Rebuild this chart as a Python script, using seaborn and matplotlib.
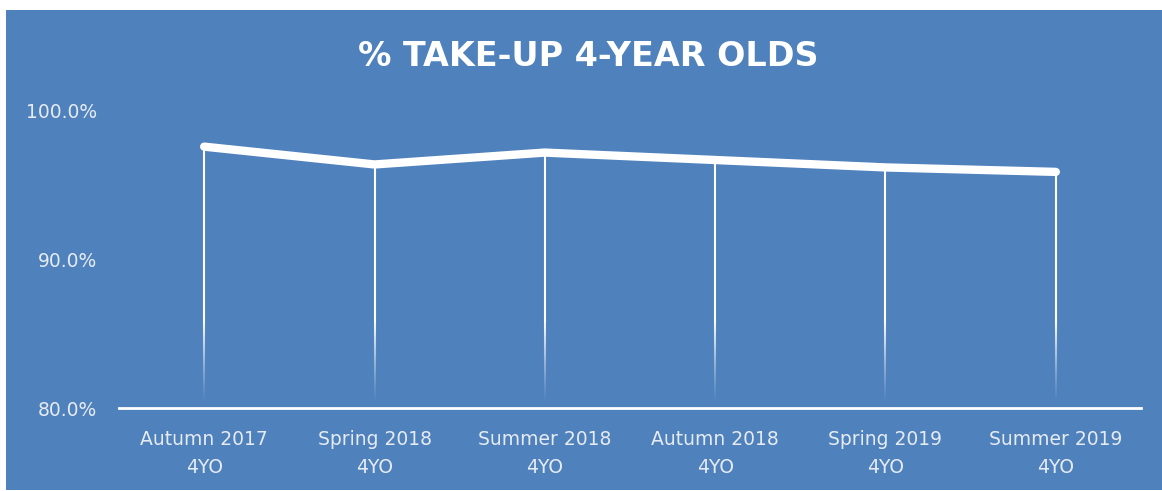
import numpy as np
import pandas as pd
import matplotlib.pyplot as plt
import seaborn as sns
from matplotlib.patches import Rectangle

# chart data
terms = ['Autumn 2017\n4YO', 'Spring 2018\n4YO', 'Summer 2018\n4YO',
         'Autumn 2018\n4YO', 'Spring 2019\n4YO', 'Summer 2019\n4YO']
take_up = [97.6, 96.4, 97.2, 96.7, 96.2, 95.9]
y_ticks = [80, 90, 100]

BLUE = '#4F81BD'
TXT = '#E6EBF2'

df = pd.DataFrame({'term': terms, 'pct': take_up})
df['pos'] = np.arange(len(df))

sns.set_style('white')
plt.rcParams['font.family'] = ['DejaVu Sans']

fig = plt.figure(figsize=(11.62, 4.91), dpi=100)
fig.patch.set_facecolor('white')
# blue chart panel
fig.add_artist(Rectangle((6 / 1162, 1 / 491), 1 - 6 / 1162, 480 / 491,
                         transform=fig.transFigure, facecolor=BLUE,
                         edgecolor='none', zorder=-5))

ax = fig.add_axes([119 / 1162, 83 / 491, 1022 / 1162, 297 / 491])
ax.set_facecolor('none')
ax.set_zorder(2)

# drop lines, solid at the top and fading out towards the axis
fade_top = 86.0
fade_bot = 80.3
ax.vlines(df['pos'], fade_top, df['pct'], color='white', lw=1.5, zorder=2)
edges = np.linspace(fade_top, fade_bot, 40)
for i in range(len(edges) - 1):
    a = 1 - i / (len(edges) - 1)
    ax.vlines(df['pos'], edges[i + 1], edges[i], color='white', lw=1.5,
              alpha=a ** 1.3, zorder=2)

sns.lineplot(data=df, x='pos', y='pct', ax=ax, color='white', lw=6,
             solid_capstyle='round', solid_joinstyle='round', zorder=3)

ax.set_xlim(-0.5, len(df) - 0.5)
ax.set_ylim(80, 100)
ax.set_xticks(df['pos'])
ax.set_xticklabels(df['term'], color=TXT, fontsize=13.5, linespacing=1.6)
ax.set_yticks(y_ticks)
ax.set_yticklabels([f'{v:.1f}%' for v in y_ticks], color=TXT, fontsize=13.5)
ax.tick_params(axis='x', length=0, pad=16)
ax.tick_params(axis='y', length=0, pad=15.5)
ax.set_xlabel('')
ax.set_ylabel('')

for s in ['top', 'right', 'left']:
    ax.spines[s].set_visible(False)
ax.spines['bottom'].set_color('white')
ax.spines['bottom'].set_linewidth(2)

fig.text(588 / 1162, 1 - 57 / 491, '% TAKE-UP 4-YEAR OLDS', color='white',
         fontsize=24, fontweight='bold', ha='center', va='center', zorder=3)

fig.savefig('out.png', dpi=100, facecolor=fig.get_facecolor())
